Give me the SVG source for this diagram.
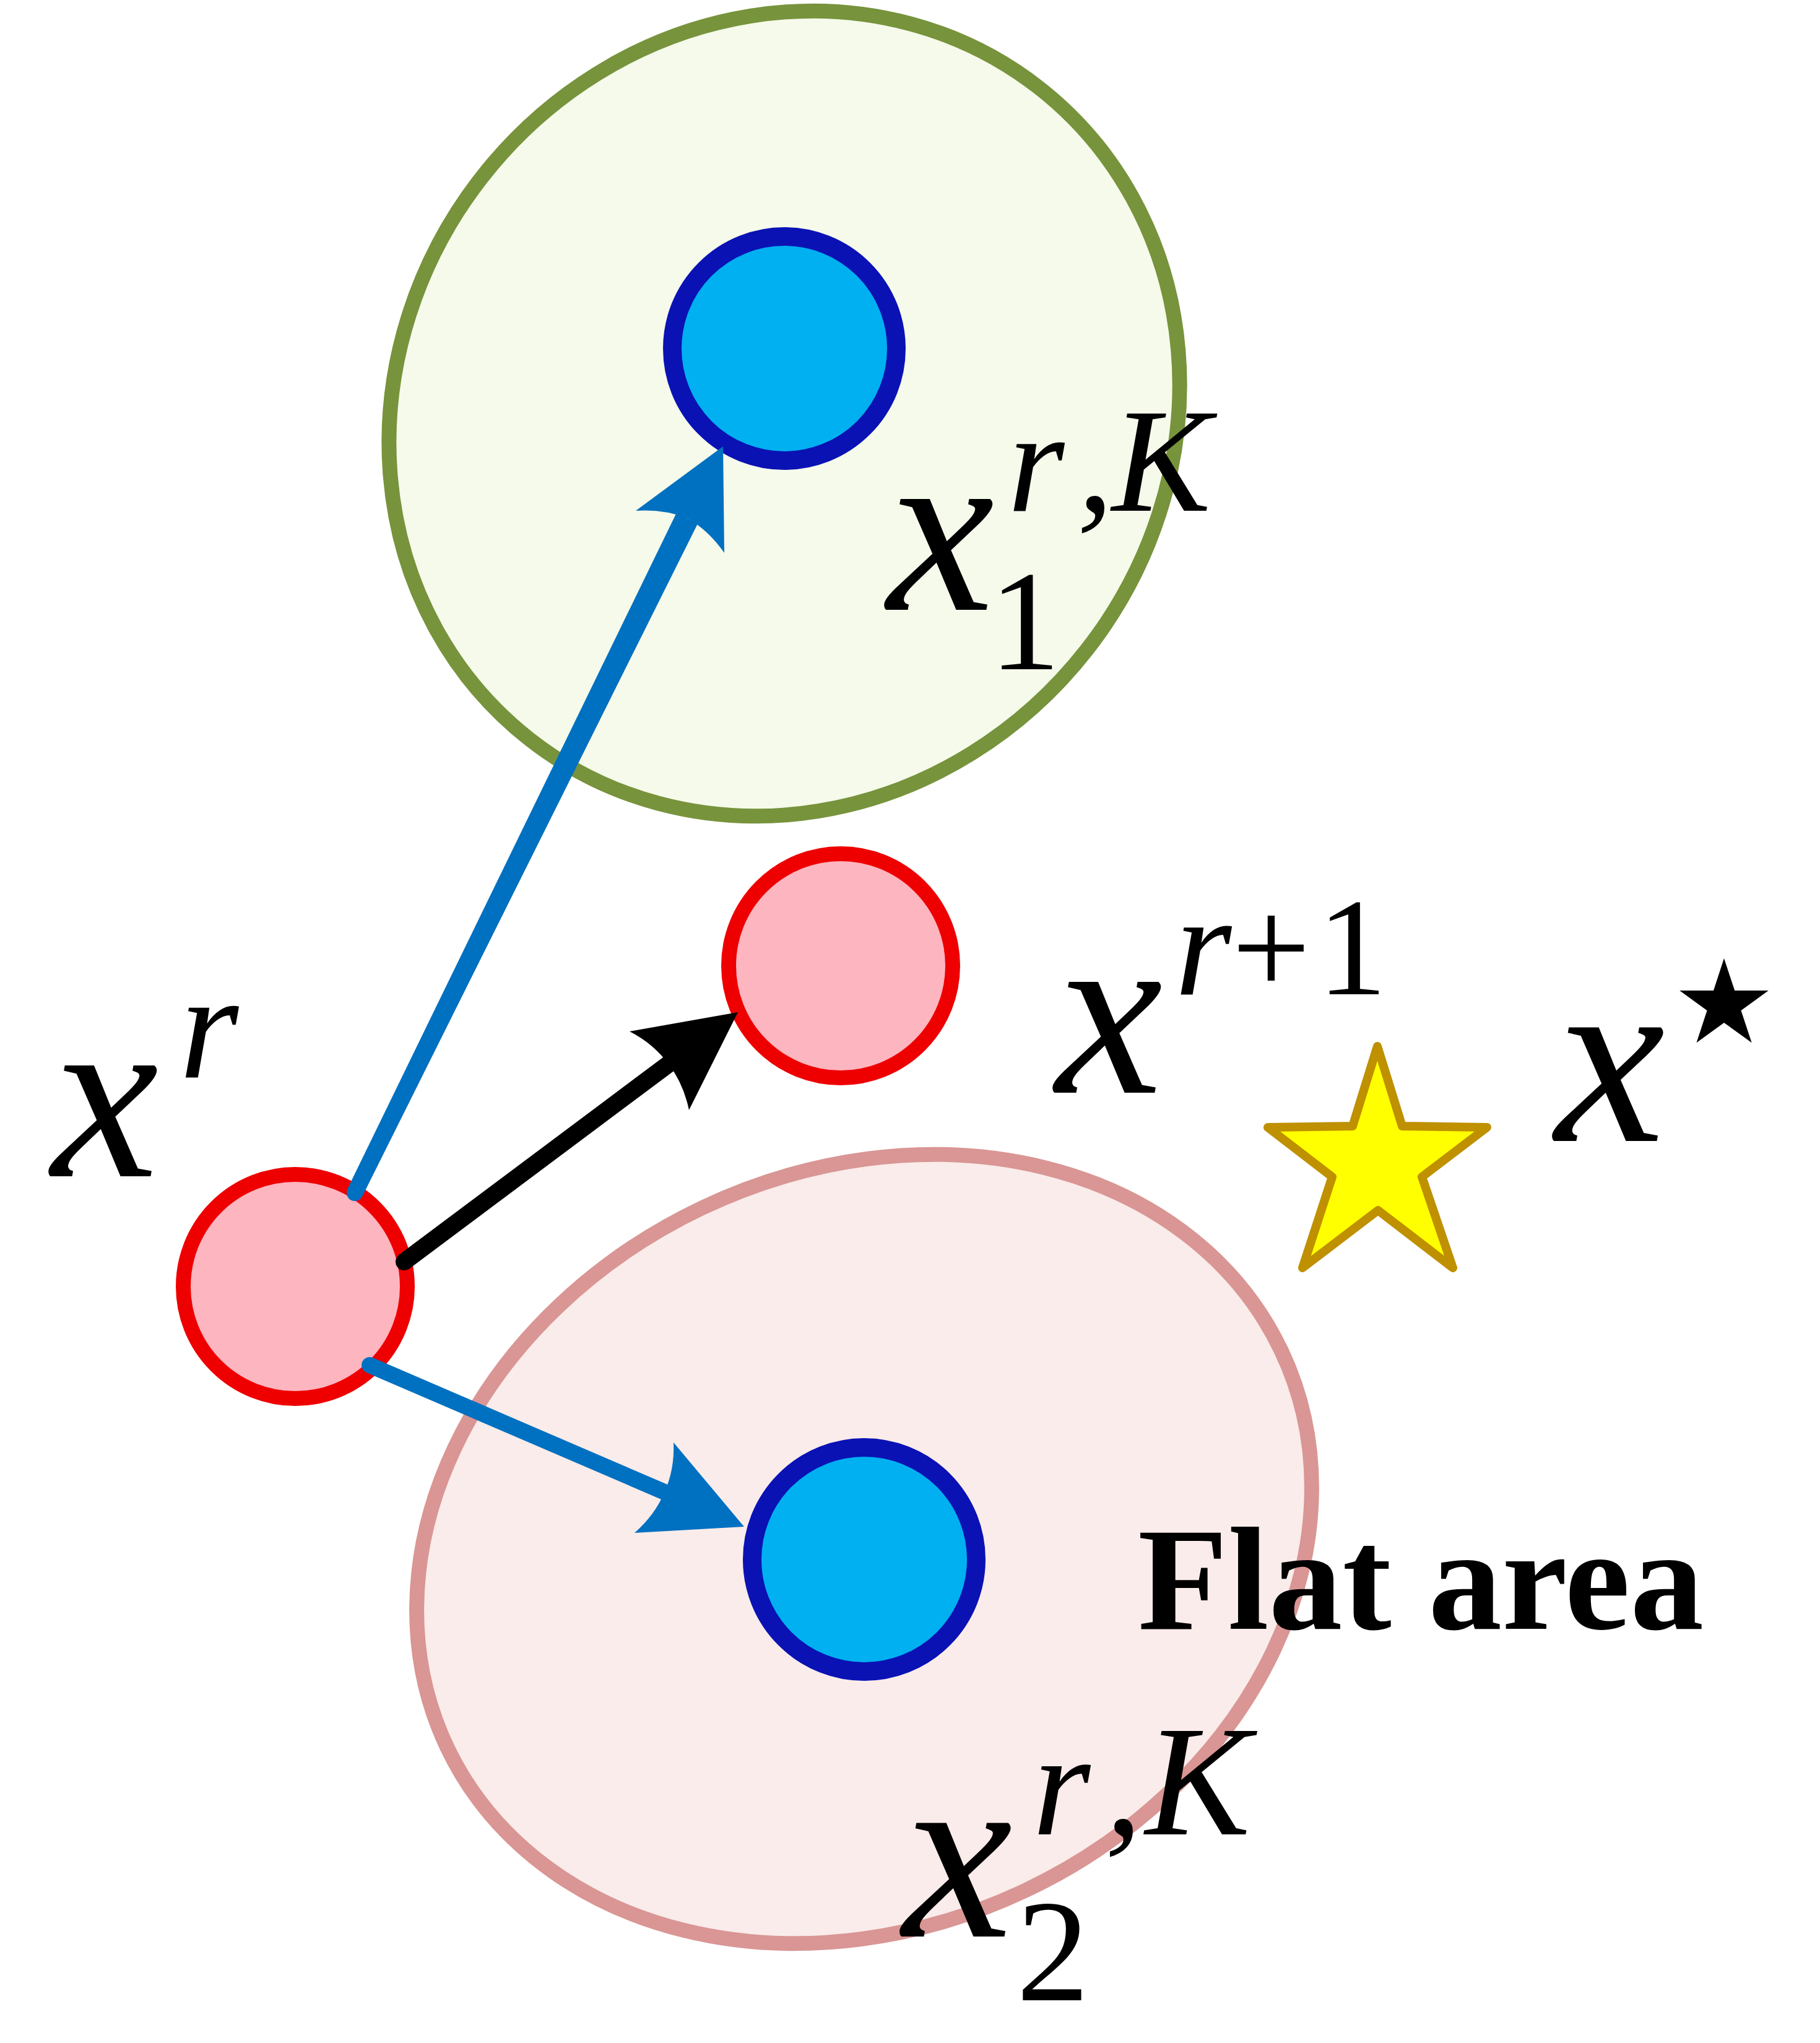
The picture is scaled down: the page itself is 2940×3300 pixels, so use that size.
<svg xmlns="http://www.w3.org/2000/svg" width="2940" height="3300" viewBox="0 0 2940 3300">
<style>
.t{font-family:'Liberation Serif','Times New Roman',serif;fill:#000}
.it{font-style:italic}
.bf{font-weight:bold}
.blue{fill:#00b0f0;stroke:#0a12b4;stroke-width:30}
.pink{fill:#fdb5c0;stroke:#ee0000;stroke-width:24}
</style>
<rect width="2940" height="3300" fill="#ffffff"/>
<g id="region1">
<ellipse cx="1267" cy="668" rx="668" ry="620" transform="rotate(-52 1267 668)" fill="#f5faeb" stroke="#77933c" stroke-width="24"/>
</g>
<g id="region2">
<ellipse cx="1396" cy="2502" rx="746" ry="610" transform="rotate(-25.4 1396 2502)" fill="#f9ecea" stroke="#d99694" stroke-width="24"/>
</g>
<g id="node-x1"><circle class="blue" cx="1267" cy="563" r="181"/></g>
<g id="node-x2"><circle class="blue" cx="1396" cy="2519" r="181"/></g>
<g id="node-xr"><circle class="pink" cx="477" cy="2078" r="181"/></g>
<g id="node-xr1"><circle class="pink" cx="1358" cy="1560" r="181"/></g>
<g id="node-star"><polygon points="2225,1690 2265,1819 2402,1821 2297,1901 2347,2048 2226,1955 2104,2048 2152,1901 2048,1821 2185,1819" fill="#ffff00" stroke="#bf9000" stroke-width="14" stroke-linejoin="round"/></g>
<g id="connectors">
<polygon points="561,1921 585,1933 1127,846 1093,828" fill="#0070c0"/>
<circle cx="573" cy="1927" r="13" fill="#0070c0"/>
<path d="M1168,721 L1027,825 Q1072,822 1110,837 Q1144,856 1170,893 Z" fill="#0070c0"/>
<line x1="653" y1="2038" x2="1085" y2="1715" stroke="#000" stroke-width="28" stroke-linecap="round"/>
<path d="M1192,1635 L1017,1666 Q1056,1686 1080,1719 Q1104,1750 1113,1793 Z" fill="#000"/>
<line x1="597" y1="2205" x2="1078" y2="2412" stroke="#0070c0" stroke-width="26" stroke-linecap="round"/>
<path d="M1202,2466 L1088,2330 Q1090,2374 1073,2411 Q1058,2447 1025,2476 Z" fill="#0070c0"/>
</g>
<g id="labels">
<text class="t it" x="83" y="1900" font-size="390">x</text>
<text class="t it" x="290" y="1741" font-size="245">r</text>

<text class="t it" x="1433" y="985" font-size="390">x</text>
<text class="t" x="1598" y="1081" font-size="230">1</text>
<text class="t it" x="1628" y="825" font-size="235">r</text>
<text class="t it" x="1740" y="825" font-size="235">,</text>
<text class="t it" x="1796" y="825" font-size="240">K</text>

<text class="t it" x="1705" y="1765" font-size="390">x</text>
<text class="t it" x="1898" y="1606" font-size="235">r</text>
<text class="t" x="1990" y="1606" font-size="225">+</text>
<text class="t" x="2128" y="1606" font-size="225">1</text>

<text class="t it" x="2512" y="1843" font-size="400">x</text>
<text x="2785" y="1740" font-size="375" text-anchor="middle" style="font-family:'DejaVu Sans',sans-serif">⋆</text>

<text class="t bf" x="1838" y="2631" font-size="238">Flat area</text>

<text class="t it" x="1458" y="3128" font-size="400">x</text>
<text class="t" x="1642" y="3231" font-size="235">2</text>
<text class="t it" x="1668" y="2963" font-size="240">r</text>
<text class="t it" x="1785" y="2963" font-size="240">,</text>
<text class="t it" x="1850" y="2963" font-size="255">K</text>
</g>
</svg>
